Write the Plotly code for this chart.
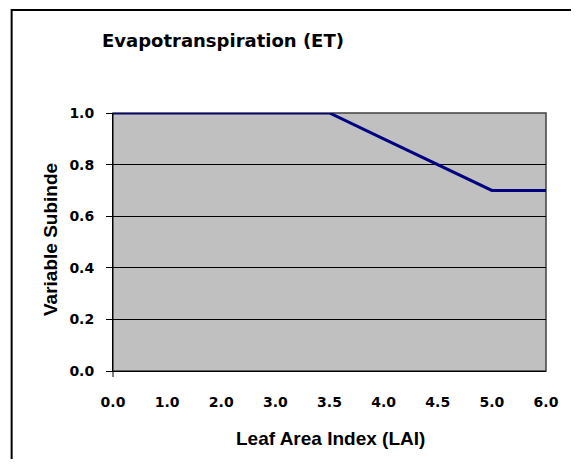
import plotly.graph_objects as go

lai_labels = ["0.0", "1.0", "2.0", "3.0", "3.5", "4.0", "4.5", "5.0", "6.0"]
subindex = [1.0, 1.0, 1.0, 1.0, 1.0, 0.9, 0.8, 0.7, 0.7]
y_ticks = [0.0, 0.2, 0.4, 0.6, 0.8, 1.0]

OFF = 8  # page body margin
W, H = 563, 451
# plot area in screen pixels
L, R, T, B = 113, 553, 113, 371

def px(x):
    return (x - L) / (R - L)

def py(y):
    return (B - y) / (B - T)

fig = go.Figure()
fig.add_trace(go.Scatter(
    x=list(range(len(lai_labels))), y=subindex, mode="lines",
    line=dict(color="#000080", width=3), showlegend=False, hoverinfo="skip"))

tick_font = dict(family="DejaVu Sans", size=14, color="black")
title_font = dict(family="Liberation Sans, Arial", size=19, color="black")

fig.update_layout(
    width=W, height=H,
    margin=dict(l=L - OFF, r=W - (R - OFF), t=T - OFF, b=H - (B - OFF)),
    paper_bgcolor="white", plot_bgcolor="#C0C0C0",
    xaxis=dict(
        range=[0, len(lai_labels) - 1], tickmode="array",
        tickvals=list(range(len(lai_labels))), ticktext=[f"<b>{t}</b>" for t in lai_labels],
        showgrid=False, zeroline=False, showline=True, linecolor="black", linewidth=1,
        ticks="", ticklabelstandoff=18, tickfont=tick_font,
    ),
    yaxis=dict(
        range=[0, 1], tickmode="array", tickvals=y_ticks,
        ticktext=[f"<b>{v:.1f}</b>" for v in y_ticks],
        showgrid=True, gridcolor="black", gridwidth=1, zeroline=False,
        showline=True, linecolor="black", linewidth=1,
        ticks="outside", ticklen=6, tickcolor="black", ticklabelstandoff=9,
        tickfont=tick_font,
    ),
    shapes=[
        dict(type="rect", xref="paper", yref="paper", x0=0, x1=1, y0=0, y1=1,
             line=dict(color="#404040", width=1.5), layer="below"),
        dict(type="rect", xref="paper", yref="paper",
             x0=px(10), x1=px(600), y0=py(490), y1=py(10),
             line=dict(color="black", width=2)),
        dict(type="line", xref="paper", yref="paper", x0=0, x1=0, y0=0, y1=py(B + 6),
             line=dict(color="black", width=1)),
    ],
    annotations=[
        dict(text="<b>Evapotranspiration (ET)</b>", xref="paper", yref="paper",
             x=px(100), y=py(41), xanchor="left", yanchor="middle", showarrow=False,
             font=dict(family="DejaVu Sans", size=18, color="black")),
        dict(text="<b>Variable Subinde</b>", xref="paper", yref="paper",
             x=px(49), y=py(240), xanchor="center", yanchor="middle", textangle=-90,
             showarrow=False, font=title_font),
        dict(text="<b>Leaf Area Index (LAI)</b>", xref="paper", yref="paper",
             x=px(334), y=py(438), xanchor="center", yanchor="middle",
             showarrow=False, font=title_font),
    ],
)

fig.write_html("out.html")
